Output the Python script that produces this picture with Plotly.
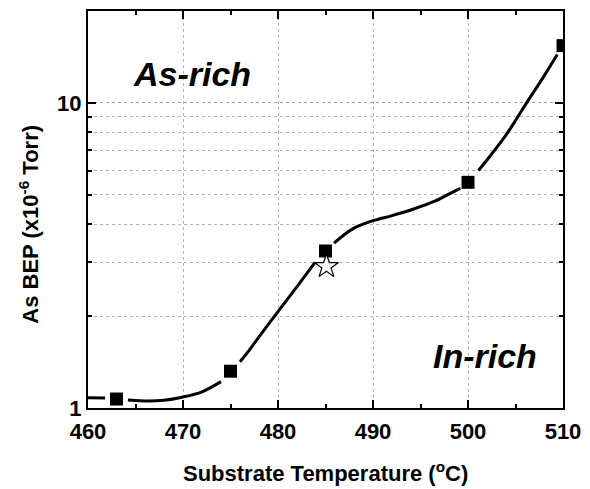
import plotly.graph_objects as go

# Measured points (squares)
temp_pts = [463, 475, 485, 500, 510]
bep_pts = [1.07, 1.32, 3.27, 5.49, 15.4]

# Reference point (hollow star)
star_temp = [485.1]
star_bep = [2.91]

# Smooth guide curve, broken around markers (None = gap)
curve_temp = [460.0, 461.8, None,
              464.2, 466.4, 468.0, 469.9, 472.0, 474.0, None,
              476.0, 477.0, 478.0, 480.0, 482.0, 483.9, None,
              485.9, 487.9, 490.0, 492.0, 494.2, 496.5, 498.7, 499.2, None,
              501.1, 502.5, 503.9, 505.1, 506.3, 507.9, 509.4]
curve_bep = [1.081, 1.078, None,
             1.062, 1.054, 1.06, 1.085, 1.13, 1.22, None,
             1.417, 1.55, 1.71, 2.07, 2.50, 3.0, None,
             3.47, 3.87, 4.11, 4.27, 4.48, 4.76, 5.16, 5.25, None,
             6.0, 6.8, 7.76, 8.85, 10.15, 12.1, 14.4]

x_ticks = [460, 470, 480, 490, 500, 510]
x_ticktext = ["460", "470", "480", "490", "500", "510"]
y_ticks = [1, 10]
y_ticktext = ["1", "10"]

FONT = "Liberation Sans, Arial, sans-serif"

fig = go.Figure()
fig.add_trace(go.Scatter(x=curve_temp, y=curve_bep, mode="lines",
                         line=dict(color="black", width=3, shape="spline", smoothing=1.0),
                         connectgaps=False, hoverinfo="skip"))
fig.add_trace(go.Scatter(x=temp_pts, y=bep_pts, mode="markers",
                         marker=dict(symbol="square", size=13, color="black")))
fig.add_trace(go.Scatter(x=star_temp, y=star_bep, mode="markers",
                         marker=dict(symbol="star", size=18, color="white",
                                     line=dict(color="black", width=1.2))))

grid_col = "rgba(150,150,150,0.7)"
fig.update_xaxes(range=[460, 510], tickvals=x_ticks,
                 ticktext=["<b>%s</b>" % t for t in x_ticktext],
                 ticks="inside", ticklen=8, tickwidth=1.5, ticklabelstandoff=3,
                 tickcolor="black", showline=True, linecolor="black", linewidth=2, mirror="allticks",
                 showgrid=True, gridcolor=grid_col, griddash="dot", gridwidth=1,
                 minor=dict(dtick=5, ticks="inside", ticklen=4, tickwidth=1.5, tickcolor="black",
                            showgrid=False),
                 tickfont=dict(family=FONT, size=22, color="black"),
                 zeroline=False)
fig.update_yaxes(type="log", range=[0, 1.301], tickvals=y_ticks,
                 ticktext=["<b>%s</b>" % t for t in y_ticktext],
                 ticks="inside", ticklen=8, tickwidth=1.5, tickcolor="black",
                 showline=True, linecolor="black", linewidth=2, mirror="allticks",
                 showgrid=True, gridcolor=grid_col, griddash="dot", gridwidth=1,
                 minor=dict(dtick="D1", ticks="inside", ticklen=4, tickwidth=1.5, tickcolor="black",
                            showgrid=True, gridcolor=grid_col, griddash="dot", gridwidth=1),
                 tickfont=dict(family=FONT, size=22, color="black"),
                 zeroline=False)

# convert pixel positions for the region labels to data/paper coordinates
def px_to_x(px):
    return 460 + (px - 88) / 481 * 50

def py_to_paper(py):
    return (408 - py) / 399

fig.add_annotation(x=px_to_x(193), y=py_to_paper(72), xref="x", yref="paper",
                   text="<b><i>As-rich</i></b>",
                   showarrow=False, font=dict(family=FONT, size=34, color="black"),
                   xanchor="center", yanchor="middle")
fig.add_annotation(x=px_to_x(490), y=py_to_paper(356), xref="x", yref="paper",
                   text="<b><i>In-rich</i></b>",
                   showarrow=False, font=dict(family=FONT, size=34, color="black"),
                   xanchor="center", yanchor="middle")
fig.add_annotation(x=-0.1247, y=0.4637, xref="paper", yref="paper",
                   text="<b>As BEP (x10<sup>-6</sup> Torr)</b>", textangle=-90,
                   showarrow=False, font=dict(family=FONT, size=22, color="black"),
                   xanchor="center", yanchor="middle")
fig.add_annotation(x=0.5, y=-0.1604, xref="paper", yref="paper",
                   text="<b>Substrate Temperature (<sup>o</sup>C)</b>",
                   showarrow=False, font=dict(family=FONT, size=22, color="black"),
                   xanchor="center", yanchor="middle")

fig.update_layout(width=590, height=489, margin=dict(l=88, r=21, t=9, b=81),
                  plot_bgcolor="white", paper_bgcolor="white", showlegend=False)

fig.write_html("out.html")
